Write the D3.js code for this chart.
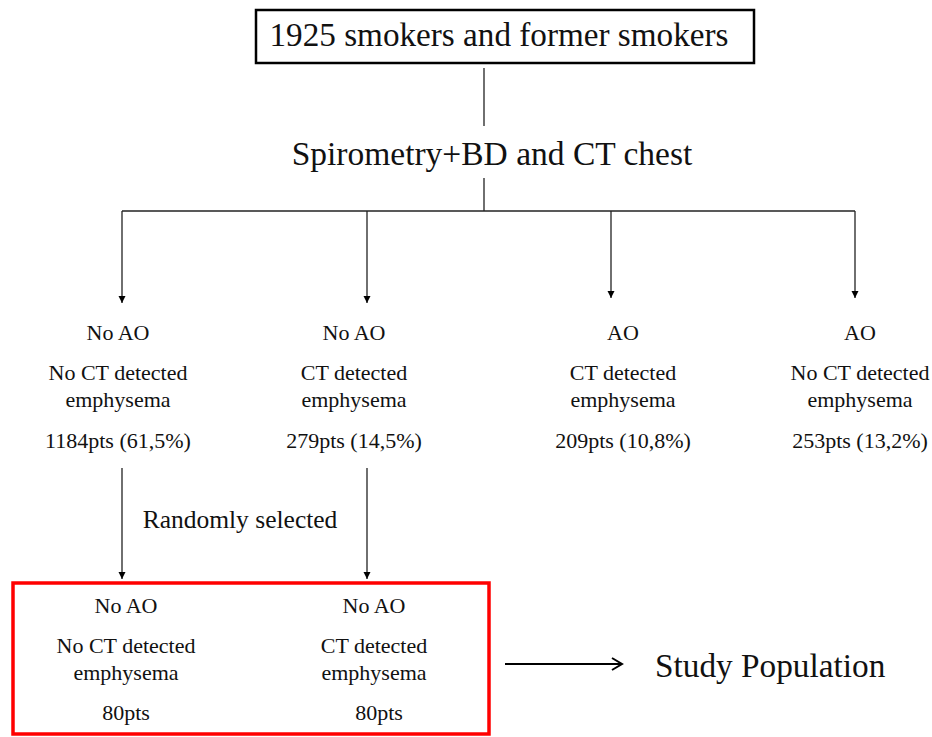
<!DOCTYPE html>
<html>
<head>
<meta charset="utf-8">
<script src="https://cdn.jsdelivr.net/npm/d3@7"></script>
<style>
  body { margin: 0; background: #fff; }
  svg { display: block; }
</style>
</head>
<body>
<div id="chart"></div>
<script>
// Flowchart content
const rootLabel = '1925 smokers and former smokers';
const testLabel = 'Spirometry+BD and CT chest';
const groupObstruction = ['No AO', 'No AO', 'AO', 'AO'];
const groupEmphysema = [['No CT detected', 'emphysema'], ['CT detected', 'emphysema'], ['CT detected', 'emphysema'], ['No CT detected', 'emphysema']];
const groupCounts = [1184, 279, 209, 253];
const groupPercents = ['61,5%', '14,5%', '10,8%', '13,2%'];
const selectionLabel = 'Randomly selected';
const selectedFrom = [0, 1];
const selectedCounts = [80, 80];
const outcomeLabel = 'Study Population';

// Layout
const width = 932;
const height = 737;
const serif = "'Liberation Serif'";

const svg = d3.select('#chart')
  .append('svg')
  .attr('width', width)
  .attr('height', height);

svg.append('defs').append('marker')
  .attr('id', 'tri')
  .attr('viewBox', '0 0 10 10')
  .attr('refX', 10).attr('refY', 5)
  .attr('markerWidth', 7).attr('markerHeight', 9)
  .attr('markerUnits', 'userSpaceOnUse')
  .attr('orient', 'auto')
  .append('path')
  .attr('d', 'M0,0 L10,5 L0,10 Z')
  .attr('fill', '#000');

// column positions: arrows and text centres
const arrowX = d3.scaleOrdinal().domain([0, 1, 2, 3]).range([122, 367, 611, 855]);
const textX = d3.scaleOrdinal().domain([0, 1, 2, 3]).range([118, 354, 623, 860]);
const arrowEnd = [303, 303, 298, 298];

const line = (x1, y1, x2, y2) => svg.append('line')
  .attr('x1', x1).attr('y1', y1).attr('x2', x2).attr('y2', y2)
  .attr('stroke', '#222').attr('stroke-width', 1.3);

const label = (parent, size) => parent.append('text')
  .attr('font-family', serif)
  .style('font-family', serif)
  .attr('font-size', size)
  .attr('fill', '#111')
  .attr('text-anchor', 'middle');

// top box
svg.append('rect')
  .attr('x', 256).attr('y', 10).attr('width', 498).attr('height', 53)
  .attr('fill', 'none').attr('stroke', '#000').attr('stroke-width', 2.5);
label(svg, 33.2).attr('x', 499).attr('y', 46).text(rootLabel);

line(484, 68, 484, 126);
label(svg, 33.5).attr('x', 492).attr('y', 165).text(testLabel);
line(484, 178, 484, 211);

// branch bar
line(arrowX(0), 211, arrowX(3), 211);
groupCounts.forEach((c, i) => {
  line(arrowX(i), 211, arrowX(i), arrowEnd[i]).attr('marker-end', 'url(#tri)');
});

// group labels
groupCounts.forEach((c, i) => {
  const g = svg.append('g');
  label(g, 22).attr('x', textX(i)).attr('y', 340).text(groupObstruction[i]);
  label(g, 22).attr('x', textX(i)).attr('y', 380).text(groupEmphysema[i][0]);
  label(g, 22).attr('x', textX(i)).attr('y', 407).text(groupEmphysema[i][1]);
  label(g, 22).attr('x', textX(i)).attr('y', 448).text(`${c}pts (${groupPercents[i]})`);
});

// selection arrows
selectedFrom.forEach(i => {
  line(arrowX(i), 468, arrowX(i), 579).attr('marker-end', 'url(#tri)');
});
label(svg, 25.5).attr('x', 240).attr('y', 528).text(selectionLabel);

// study population box
svg.append('rect')
  .attr('x', 13).attr('y', 583).attr('width', 476).attr('height', 151)
  .attr('fill', 'none').attr('stroke', '#ff0000').attr('stroke-width', 3.5);

const selX = [126, 374];
selectedFrom.forEach((gi, k) => {
  const g = svg.append('g');
  label(g, 22).attr('x', selX[k]).attr('y', 613).text(groupObstruction[gi]);
  label(g, 22).attr('x', selX[k]).attr('y', 653).text(groupEmphysema[gi][0]);
  label(g, 22).attr('x', selX[k]).attr('y', 680).text(groupEmphysema[gi][1]);
  label(g, 22).attr('x', selX[k] + (k ? 5 : 0)).attr('y', 720).text(`${selectedCounts[k]}pts`);
});

// outcome arrow
line(505, 664, 621, 664).attr('stroke-width', 2).attr('stroke', '#000');
svg.append('path')
  .attr('d', 'M612,658 L622,664 L612,670')
  .attr('fill', 'none').attr('stroke', '#000').attr('stroke-width', 2);
label(svg, 33.3).attr('text-anchor', 'start').attr('x', 655).attr('y', 677).text(outcomeLabel);
</script>
</body>
</html>
